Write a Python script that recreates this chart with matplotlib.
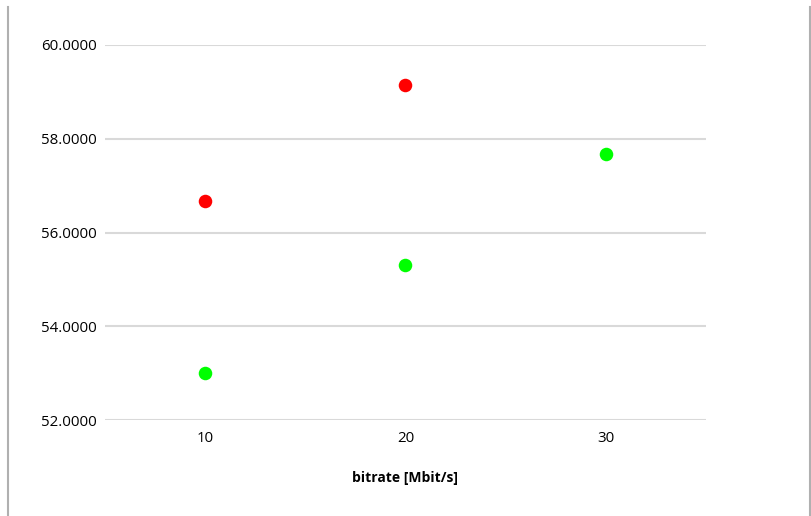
import matplotlib
matplotlib.use("Agg")
import matplotlib.pyplot as plt
from matplotlib.lines import Line2D

plt.rcParams['font.family'] = ['Open Sans', 'DejaVu Sans']

red_x = [10, 20]
red_y = [56.68, 59.15]
green_x = [10, 20, 30]
green_y = [53.0, 55.3, 57.67]
y_ticks = [52, 54, 56, 58, 60]
x_ticks = [10, 20, 30]

W, H = 812, 516
fig = plt.figure(figsize=(W/100, H/100), dpi=100)
ax = fig.add_axes([105/W, 1 - 420/H, (706-105)/W, (420-45)/H])

ax.set_xlim(5, 35)
ax.set_ylim(52, 60)
ax.set_yticks(y_ticks)
ax.set_yticklabels([f"{v:.4f}" for v in y_ticks])
ax.set_xticks(x_ticks)
ax.set_xticklabels([str(v) for v in x_ticks])
ax.grid(axis='y', color='#d9d9d9', linewidth=1.5)
ax.set_axisbelow(True)
for s in ax.spines.values():
    s.set_visible(False)
ax.tick_params(length=0, labelsize=10.8, colors='#000000')
ax.tick_params(axis='y', pad=6)
ax.tick_params(axis='x', pad=8)

ax.scatter(red_x, red_y, s=95, color='#ff0000', zorder=3, linewidths=0)
ax.scatter(green_x, green_y, s=95, color='#00ff00', zorder=3, linewidths=0)

ax.set_xlabel('bitrate [Mbit/s]', fontsize=10, fontweight='bold', labelpad=18)

fig.add_artist(Line2D([8/W, 8/W], [0, 1 - 7/H], transform=fig.transFigure, color='#b0b0b0', linewidth=1.5))
fig.add_artist(Line2D([810.5/W, 810.5/W], [0, 1 - 7/H], transform=fig.transFigure, color='#b0b0b0', linewidth=1.5))

fig.savefig('out.png', dpi=100)
